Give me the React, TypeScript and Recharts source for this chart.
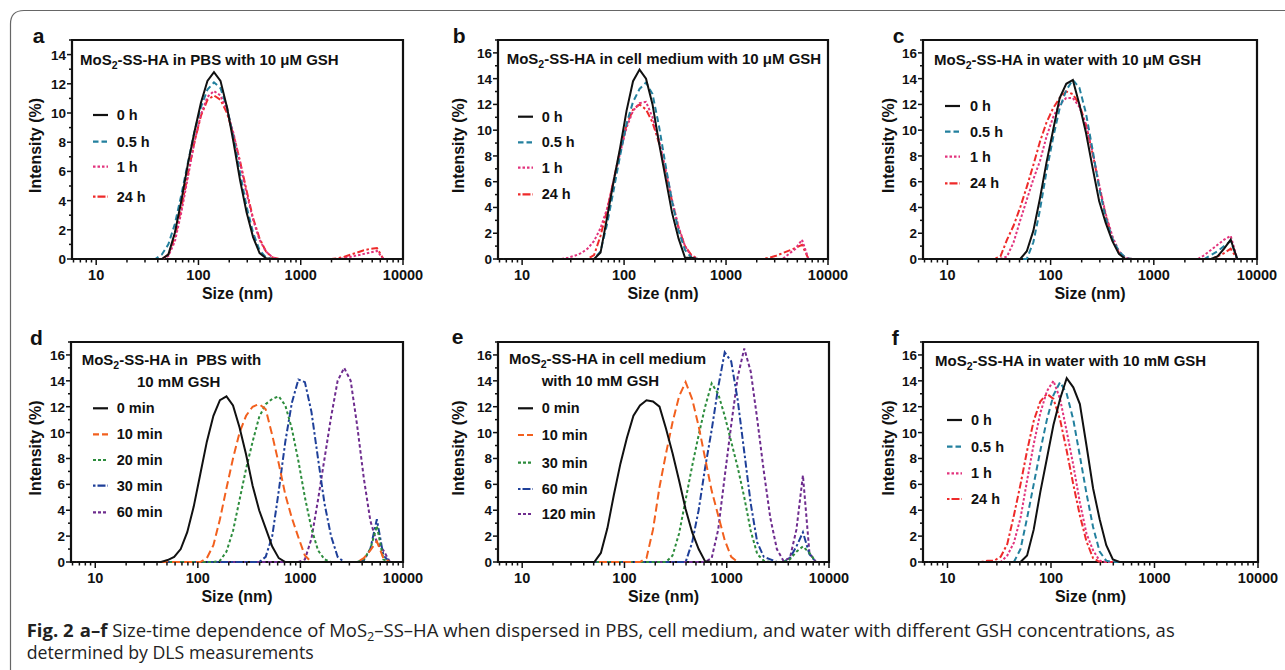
import React from 'react';
import { LineChart, Line, XAxis, YAxis, ReferenceArea, Label } from 'recharts';

// DLS size bins (nm), visible part of the instrument's log grid
const sizes = [
  6.503, 7.531, 8.721, 10.1, 11.7, 13.54, 15.69, 18.17, 21.04, 24.36,
  28.21, 32.67, 37.84, 43.82, 50.75, 58.77, 68.06, 78.82, 91.28, 105.7,
  122.4, 141.8, 164.2, 190.1, 220.2, 255.0, 295.3, 342.0, 396.1, 458.7,
  531.2, 615.1, 712.4, 825.0, 955.4, 1106, 1281, 1484, 1718, 1990,
  2305, 2669, 3091, 3580, 4145, 4801, 5560, 6439, 7456, 8635, 10000,
];

const xTicks = [
  6, 7, 8, 9, 10, 20, 30, 40, 50, 60, 70, 80, 90,
  100, 200, 300, 400, 500, 600, 700, 800, 900,
  1000, 2000, 3000, 4000, 5000, 6000, 7000, 8000, 9000, 10000,
];
const xMajor = [10, 100, 1000, 10000];
const yTicks15 = [0, 1, 2, 3, 4, 5, 6, 7, 8, 9, 10, 11, 12, 13, 14, 15];
const yTicks17 = [0, 1, 2, 3, 4, 5, 6, 7, 8, 9, 10, 11, 12, 13, 14, 15, 16, 17];

const hours = ['0 h', '0.5 h', '1 h', '24 h'];
const minutesD = ['0 min', '10 min', '20 min', '30 min', '60 min'];
const minutesE = ['0 min', '10 min', '30 min', '60 min', '120 min'];

// (a) PBS, 10 uM GSH
const a0h = [
  0, 0, 0, 0, 0, 0, 0, 0, 0, 0,
  0, 0, 0, 0, 0.3, 1.8, 4.0, 6.5, 8.7, 10.7,
  12.2, 12.8, 12.2, 10.4, 8.0, 5.4, 3.2, 1.5, 0.4, 0.05,
  0, 0, 0, 0, 0, 0, 0, 0, 0, 0,
  0, 0, 0, 0, 0, 0, 0, 0, 0, 0, 0,
];
const a05h = [
  0, 0, 0, 0, 0, 0, 0, 0, 0, 0,
  0, 0, 0, 0.3, 1.0, 2.4, 4.4, 6.6, 8.7, 10.4,
  11.6, 12.1, 11.7, 10.4, 8.3, 5.9, 3.6, 1.8, 0.6, 0.1,
  0, 0, 0, 0, 0, 0, 0, 0, 0, 0,
  0, 0, 0, 0, 0, 0, 0, 0, 0, 0, 0,
];
const a1h = [
  0, 0, 0, 0, 0, 0, 0, 0, 0, 0,
  0, 0, 0, 0, 0.2, 1.2, 3.2, 5.6, 8.0, 9.9,
  11.1, 11.5, 11.2, 10.2, 8.6, 6.6, 4.5, 2.7, 1.3, 0.5,
  0.1, 0, 0, 0, 0, 0, 0, 0, 0, 0,
  0, 0.05, 0.15, 0.25, 0.35, 0.45, 0.55, 0, 0, 0, 0,
];
const a24h = [
  0, 0, 0, 0, 0, 0, 0, 0, 0, 0,
  0, 0, 0, 0, 0.3, 1.5, 3.5, 5.8, 8.0, 9.8,
  10.9, 11.2, 10.9, 10.0, 8.5, 6.7, 4.7, 2.8, 1.4, 0.5,
  0.1, 0, 0, 0, 0, 0, 0, 0, 0, 0,
  0.05, 0.15, 0.3, 0.45, 0.6, 0.7, 0.75, 0, 0, 0, 0,
];

// (b) cell medium, 10 uM GSH
const b0h = [
  0, 0, 0, 0, 0, 0, 0, 0, 0, 0,
  0, 0, 0, 0, 0, 0.5, 3.2, 6.0, 8.6, 11.5,
  13.8, 14.7, 14.0, 12.0, 9.0, 6.3, 3.6, 1.6, 0.1, 0.1,
  0, 0, 0, 0, 0, 0, 0, 0, 0, 0,
  0, 0, 0, 0, 0, 0, 0, 0, 0, 0, 0,
];
const b05h = [
  0, 0, 0, 0, 0, 0, 0, 0, 0, 0,
  0, 0, 0, 0, 0, 0.6, 2.7, 5.3, 8.0, 10.5,
  12.2, 13.2, 13.7, 12.8, 10.3, 7.3, 4.5, 2.2, 0.7, 0.1,
  0, 0, 0, 0, 0, 0, 0, 0, 0, 0,
  0, 0, 0, 0, 0, 0, 0, 0, 0, 0, 0,
];
const b1h = [
  0, 0, 0, 0, 0, 0, 0, 0, 0, 0,
  0.1, 0.25, 0.45, 0.8, 1.4, 2.4, 3.9, 6.0, 8.2, 10.2,
  11.5, 12.1, 12.2, 11.0, 9.2, 7.0, 4.6, 2.5, 1.0, 0.2,
  0, 0, 0, 0, 0, 0, 0, 0, 0, 0,
  0, 0, 0, 0, 0.4, 0.8, 1.5, 0, 0, 0, 0,
];
const b24h = [
  0, 0, 0, 0, 0, 0, 0, 0, 0, 0,
  0, 0, 0, 0, 0.3, 1.8, 3.8, 6.1, 8.4, 10.4,
  11.6, 12.0, 11.6, 10.6, 9.0, 6.8, 4.5, 2.4, 1.0, 0.3,
  0, 0, 0, 0, 0, 0, 0, 0, 0, 0,
  0, 0.1, 0.25, 0.45, 0.65, 0.85, 1.1, 0, 0, 0, 0,
];

// (c) water, 10 uM GSH
const c0h = [
  0, 0, 0, 0, 0, 0, 0, 0, 0, 0,
  0, 0, 0, 0, 0, 0.6, 2.2, 4.7, 7.5, 10.0,
  12.5, 13.6, 13.9, 12.0, 9.8, 7.1, 4.5, 2.8, 1.4, 0.4,
  0, 0, 0, 0, 0, 0, 0, 0, 0, 0,
  0, 0, 0, 0, 0.2, 0.8, 1.5, 0, 0, 0, 0,
];
const c05h = [
  0, 0, 0, 0, 0, 0, 0, 0, 0, 0,
  0, 0, 0, 0, 0, 0, 1.3, 3.8, 6.8, 9.4,
  11.7, 13.1, 13.9, 13.3, 11.3, 8.5, 5.5, 3.2, 1.6, 0.6,
  0.1, 0, 0, 0, 0, 0, 0, 0, 0, 0,
  0, 0, 0, 0.3, 0.6, 1.0, 1.4, 0, 0, 0, 0,
];
const c1h = [
  0, 0, 0, 0, 0, 0, 0, 0, 0, 0,
  0, 0, 0.2, 1.3, 3.0, 4.6, 6.2, 7.6, 9.5, 11.0,
  12.0, 12.5, 12.5, 11.8, 10.4, 8.3, 5.8, 3.5, 1.8, 0.6,
  0.1, 0, 0, 0, 0, 0, 0, 0, 0, 0,
  0, 0, 0.3, 0.7, 1.1, 1.5, 1.8, 0, 0, 0, 0,
];
const c24h = [
  0, 0, 0, 0, 0, 0, 0, 0, 0, 0,
  0, 0.2, 1.5, 2.6, 4.0, 5.6, 7.3, 9.1, 10.6, 11.7,
  12.5, 13.0, 12.8, 12.0, 10.4, 8.2, 5.7, 3.4, 1.6, 0.5,
  0.05, 0, 0, 0, 0, 0, 0, 0, 0, 0,
  0, 0, 0, 0, 0.2, 0.45, 0.8, 0, 0, 0, 0,
];

// (d) PBS, 10 mM GSH
const d0 = [
  0, 0, 0, 0, 0, 0, 0, 0, 0, 0,
  0, 0, 0, 0, 0.15, 0.4, 1.0, 2.3, 4.3, 6.8,
  9.3, 11.3, 12.5, 12.8, 12.1, 10.4, 8.3, 5.9, 4.0, 2.6,
  1.2, 0.3, 0, 0, 0, 0, 0, 0, 0, 0,
  0, 0, 0, 0, 0, 0, 0, 0, 0, 0, 0,
];
const d10 = [
  0, 0, 0, 0, 0, 0, 0, 0, 0, 0,
  0, 0, 0, 0, 0, 0, 0, 0, 0, 0,
  0.3, 1.3, 3.3, 5.7, 8.0, 10.0, 11.3, 12.0, 12.2, 11.8,
  9.8, 7.6, 5.2, 3.4, 1.9, 0.5, 0, 0, 0, 0,
  0, 0, 0, 0, 0.3, 0.9, 1.6, 0.3, 0, 0, 0,
];
const d20 = [
  0, 0, 0, 0, 0, 0, 0, 0, 0, 0,
  0, 0, 0, 0, 0, 0, 0, 0, 0, 0,
  0, 0, 0.1, 0.8, 2.4, 4.8, 7.2, 9.3, 11.2, 12.2,
  12.6, 12.8, 12.1, 10.3, 7.8, 5.0, 2.6, 0.9, 0.2, 0,
  0, 0, 0, 0, 0.2, 1.0, 2.8, 0.2, 0, 0, 0,
];
const d30 = [
  0, 0, 0, 0, 0, 0, 0, 0, 0, 0,
  0, 0, 0, 0, 0, 0, 0, 0, 0, 0,
  0, 0, 0, 0, 0, 0, 0, 0, 0, 0.4,
  2.0, 5.5, 9.3, 12.3, 14.1, 13.9, 11.6, 8.0, 4.5, 2.0,
  0.4, 0, 0, 0, 0.1, 1.0, 3.3, 0.5, 0, 0, 0,
];
const d60 = [
  0, 0, 0, 0, 0, 0, 0, 0, 0, 0,
  0, 0, 0, 0, 0, 0, 0, 0, 0, 0,
  0, 0, 0, 0, 0, 0, 0, 0, 0, 0,
  0, 0, 0, 0, 0, 0.2, 1.8, 4.8, 8.0, 11.2,
  14.0, 15.0, 14.0, 10.5, 6.5, 3.2, 1.5, 0.9, 0, 0, 0,
];

// (e) cell medium, 10 mM GSH
const e0 = [
  0, 0, 0, 0, 0, 0, 0, 0, 0, 0,
  0, 0, 0, 0, 0, 0.7, 2.6, 5.2, 7.6, 9.6,
  11.3, 12.1, 12.5, 12.4, 12.0, 10.3, 8.4, 6.3, 4.1, 2.3,
  1.0, 0.05, 0, 0, 0, 0, 0, 0, 0, 0,
  0, 0, 0, 0, 0, 0, 0, 0, 0, 0, 0,
];
const e10 = [
  0, 0, 0, 0, 0, 0, 0, 0, 0, 0,
  0, 0, 0, 0, 0, 0, 0, 0, 0, 0,
  0, 0, 0.3, 2.5, 5.8, 8.4, 10.8, 12.8, 13.9, 12.6,
  10.5, 8.0, 5.5, 3.6, 1.7, 0.4, 0, 0, 0, 0,
  0, 0, 0, 0, 0, 0, 0, 0, 0, 0, 0,
];
const e30 = [
  0, 0, 0, 0, 0, 0, 0, 0, 0, 0,
  0, 0, 0, 0, 0, 0, 0, 0, 0, 0,
  0, 0, 0, 0, 0, 0, 0.5, 2.2, 4.8, 7.4,
  9.8, 12.0, 13.8, 13.0, 11.3, 9.3, 7.3, 5.0, 2.4, 0.6,
  0.1, 0, 0, 0, 0.2, 0.8, 1.2, 0.7, 0, 0, 0,
];
const e60 = [
  0, 0, 0, 0, 0, 0, 0, 0, 0, 0,
  0, 0, 0, 0, 0, 0, 0, 0, 0, 0,
  0, 0, 0, 0, 0, 0, 0, 0, 0, 1.5,
  4.0, 7.3, 10.2, 13.5, 16.2, 15.5, 12.5, 8.5, 4.5, 1.5,
  0.4, 0.2, 0, 0, 0.3, 1.2, 2.3, 0.6, 0, 0, 0,
];
const e120 = [
  0, 0, 0, 0, 0, 0, 0, 0, 0, 0,
  0, 0, 0, 0, 0, 0, 0, 0, 0, 0,
  0, 0, 0, 0, 0, 0, 0, 0, 0, 0,
  0, 0, 0.3, 2.5, 6.6, 10.6, 14.3, 16.5, 14.7, 11.0,
  7.0, 3.4, 1.0, 0.1, 0.3, 2.5, 6.7, 0.7, 0, 0, 0,
];

// (f) water, 10 mM GSH
const f0h = [
  0, 0, 0, 0, 0, 0, 0, 0, 0, 0,
  0, 0, 0, 0, 0, 0.5, 2.5, 5.4, 8.0, 10.6,
  12.6, 14.2, 13.5, 12.2, 9.0, 5.7, 3.3, 1.3, 0.2, 0,
  0, 0, 0, 0, 0, 0, 0, 0, 0, 0,
  0, 0, 0, 0, 0, 0, 0, 0, 0, 0, 0,
];
const f05h = [
  0, 0, 0, 0, 0, 0, 0, 0, 0, 0,
  0, 0, 0, 0, 1.0, 3.4, 6.0, 8.6, 11.0, 12.9,
  13.9, 13.0, 11.0, 8.2, 5.3, 2.7, 0.8, 0.1, 0, 0,
  0, 0, 0, 0, 0, 0, 0, 0, 0, 0,
  0, 0, 0, 0, 0, 0, 0, 0, 0, 0, 0,
];
const f1h = [
  0, 0, 0, 0, 0, 0, 0, 0, 0, 0,
  0, 0, 0.5, 1.5, 3.4, 6.3, 9.1, 11.5, 13.2, 14.0,
  12.6, 10.1, 7.5, 4.6, 2.2, 0.9, 0.1, 0, 0, 0,
  0, 0, 0, 0, 0, 0, 0, 0, 0, 0,
  0, 0, 0, 0, 0, 0, 0, 0, 0, 0, 0,
];
const f24h = [
  0, 0, 0, 0, 0, 0, 0, 0, 0, 0.1,
  0.1, 0.4, 1.4, 3.6, 6.0, 8.6, 10.9, 12.4, 13.0, 12.6,
  11.0, 8.6, 6.0, 3.6, 1.6, 0.3, 0, 0, 0, 0,
  0, 0, 0, 0, 0, 0, 0, 0, 0, 0,
  0, 0, 0, 0, 0, 0, 0, 0, 0, 0, 0,
];

const FONT = '"Liberation Sans", Arial, Helvetica, sans-serif';
const CAPTION_FONT = '"Open Sans", "Noto Sans", sans-serif';
const INK = '#111';

const hourStyles = [
  { color: '#111111', dash: undefined, legendDash: undefined },
  { color: '#23809e', dash: '6 3.5', legendDash: '5.5 3' },
  { color: '#e2337d', dash: '2.5 2', legendDash: '2.5 2' },
  { color: '#ee2a2a', dash: '7 2.5 2.5 2.5', legendDash: '2.5 2 8 2' },
];
const minStyles = [
  { color: '#111111', dash: undefined, legendDash: undefined },
  { color: '#f2601e', dash: '8 4', legendDash: '6 3' },
  { color: '#2c8c3c', dash: '3 2.5', legendDash: '3 2' },
  { color: '#1e3f99', dash: '7 2.5 2.5 2.5', legendDash: '2.5 2 8 2' },
  { color: '#6e2c8e', dash: '3.5 2.5', legendDash: '3 2' },
];

const mk = (names, values, styles) =>
  names.map((name, i) => ({ name, values: values[i], ...styles[i] }));

const panels = [
  {
    letter: 'a', lx: 32.7, ly: 43.3,
    x: 72, y: 40, w: 331, h: 219, yTicks: yTicks15, yLabelOff: 37,
    title: [{ x: 80, y: 65, mos: true, text: '-SS-HA in PBS with 10 μM GSH' }],
    legend: { x: 93, tx: 116.7, ys: [120, 146.7, 171.7, 201.7] },
    series: mk(hours, [a0h, a05h, a1h, a24h], hourStyles),
  },
  {
    letter: 'b', lx: 452.7, ly: 43.3,
    x: 498, y: 40, w: 330, h: 219, yTicks: yTicks17, yLabelOff: 40,
    title: [{ x: 506.7, y: 63.5, mos: true, text: '-SS-HA in cell medium with 10 μM GSH' }],
    legend: { x: 518, tx: 541.7, ys: [121.7, 147.3, 172.7, 199.3] },
    series: mk(hours, [b0h, b05h, b1h, b24h], hourStyles),
  },
  {
    letter: 'c', lx: 892.7, ly: 43.3,
    x: 923, y: 40, w: 334, h: 219, yTicks: yTicks17, yLabelOff: 35,
    title: [{ x: 934, y: 65, mos: true, text: '-SS-HA in water with 10 μM GSH' }],
    legend: { x: 945, tx: 970, ys: [111, 136.7, 161.7, 188.3] },
    series: mk(hours, [c0h, c05h, c1h, c24h], hourStyles),
  },
  {
    letter: 'd', lx: 30, ly: 345,
    x: 71, y: 342, w: 332, h: 220, yTicks: yTicks17, yLabelOff: 36,
    title: [
      { x: 81.7, y: 365, mos: true, text: '-SS-HA in  PBS with' },
      { x: 137, y: 386.7, mos: false, text: '10 mM GSH' },
    ],
    legend: { x: 93, tx: 116.7, ys: [413.3, 439.3, 465, 490.7, 517.3] },
    series: mk(minutesD, [d0, d10, d20, d30, d60], minStyles),
  },
  {
    letter: 'e', lx: 451.7, ly: 344,
    x: 498, y: 342, w: 331, h: 220, yTicks: yTicks17, yLabelOff: 40,
    title: [
      { x: 509, y: 364.3, mos: true, text: '-SS-HA in cell medium' },
      { x: 541.7, y: 386, mos: false, text: 'with 10 mM GSH' },
    ],
    legend: { x: 518, tx: 541.7, ys: [413.3, 440, 467.7, 494, 519] },
    series: mk(minutesE, [e0, e10, e30, e60, e120], minStyles),
  },
  {
    letter: 'f', lx: 891.7, ly: 345,
    x: 923, y: 342, w: 335, h: 220, yTicks: yTicks17, yLabelOff: 35,
    title: [{ x: 935, y: 366, mos: true, text: '-SS-HA in water with 10 mM GSH' }],
    legend: { x: 947, tx: 971, ys: [425, 451.7, 478.3, 504] },
    series: mk(hours, [f0h, f05h, f1h, f24h], hourStyles),
  },
];

const X_MIN = 5.8;
const X_MAX = 10000;

const XTick = (props) => {
  const { x, y, payload } = props;
  const v = payload.value;
  const major = xMajor.includes(v);
  return (
    <g>
      <line x1={x} x2={x} y1={y} y2={y + (major ? 6 : 3.5)} stroke={INK} strokeWidth={1.5} />
      {major && (
        <text x={x} y={y + 21} textAnchor="middle" fontSize={14.5} fontWeight="bold" fill={INK} fontFamily={FONT}>
          {v}
        </text>
      )}
    </g>
  );
};

const YTick = (props) => {
  const { x, y, payload } = props;
  const v = payload.value;
  const major = v % 2 === 0;
  return (
    <g>
      <line x1={x} x2={x - (major ? 5 : 3)} y1={y} y2={y} stroke={INK} strokeWidth={1.5} />
      {major && (
        <text x={x - 6} y={y + 5} textAnchor="end" fontSize={13.5} fontWeight="bold" fill={INK} fontFamily={FONT}>
          {v}
        </text>
      )}
    </g>
  );
};

function Panel({ p }) {
  const rows = sizes.map((size, i) => {
    const row = { size };
    p.series.forEach((s, k) => {
      row['s' + k] = s.values[i];
    });
    return row;
  });
  const yMax = p.yTicks[p.yTicks.length - 1];
  const order = p.series.map((s, k) => k).reverse();
  return (
    <div style={{ position: 'absolute', left: p.x - 60, top: p.y - 10 }}>
      <LineChart width={p.w + 100} height={p.h + 55} data={rows} margin={{ top: 10, right: 40, left: 0, bottom: 0 }}>
        <XAxis
          dataKey="size"
          type="number"
          scale="log"
          domain={[X_MIN, X_MAX]}
          allowDataOverflow
          ticks={xTicks}
          interval={0}
          tick={(t) => <XTick {...t} />}
          tickSize={0}
          tickMargin={0}
          tickLine={false}
          axisLine={false}
          height={45}
        >
          <Label
            content={({ viewBox }) => (
              <text
                x={viewBox.x + viewBox.width / 2}
                y={viewBox.y + 40}
                textAnchor="middle"
                fontSize={16}
                fontWeight="bold"
                fill={INK}
                fontFamily={FONT}
              >
                Size (nm)
              </text>
            )}
          />
        </XAxis>
        <YAxis
          type="number"
          domain={[0, yMax]}
          ticks={p.yTicks}
          interval={0}
          tick={(t) => <YTick {...t} />}
          tickSize={0}
          tickMargin={0}
          tickLine={false}
          axisLine={false}
          width={60}
        >
          <Label
            content={({ viewBox }) => {
              const cx = viewBox.x + viewBox.width - p.yLabelOff;
              const cy = viewBox.y + viewBox.height / 2 - 4;
              return (
                <text
                  x={cx}
                  y={cy}
                  transform={`rotate(-90 ${cx} ${cy})`}
                  textAnchor="middle"
                  dominantBaseline="central"
                  fontSize={16}
                  fontWeight="bold"
                  fill={INK}
                  fontFamily={FONT}
                >
                  Intensity (%)
                </text>
              );
            }}
          />
        </YAxis>
        <ReferenceArea x1={X_MIN} x2={X_MAX} y1={0} y2={yMax} fill="none" stroke={INK} strokeWidth={2.2} />
        {order.map((k) => (
          <Line
            key={k}
            dataKey={'s' + k}
            name={p.series[k].name}
            type="linear"
            stroke={p.series[k].color}
            strokeWidth={2}
            strokeDasharray={p.series[k].dash}
            dot={false}
            activeDot={false}
            isAnimationActive={false}
          />
        ))}
      </LineChart>
    </div>
  );
}

function Overlay() {
  return (
    <svg
      width={1285}
      height={670}
      style={{ position: 'absolute', left: 0, top: 0, pointerEvents: 'none' }}
      fontFamily={FONT}
    >
      <path d="M 10.5 670 L 10.5 24 Q 10.5 10.5 24 10.5 L 1285 10.5" fill="none" stroke="#666" strokeWidth={1.2} />
      {panels.map((p) => (
        <g key={p.letter}>
          <text x={p.lx} y={p.ly} fontSize={21} fontWeight="bold" fill={INK}>
            {p.letter}
          </text>
          {p.title.map((t, i) => (
            <text key={i} x={t.x} y={t.y} fontSize={15} fontWeight="bold" fill={INK} xmlSpace="preserve">
              {t.mos ? (
                <>
                  MoS
                  <tspan dy={4} fontSize={10.5}>2</tspan>
                  <tspan dy={-4}>{t.text}</tspan>
                </>
              ) : (
                t.text
              )}
            </text>
          ))}
          {p.series.map((s, i) => {
            const yb = p.legend.ys[i];
            return (
              <g key={s.name}>
                <line
                  x1={p.legend.x}
                  x2={p.legend.x + 15}
                  y1={yb - 5}
                  y2={yb - 5}
                  stroke={s.color}
                  strokeWidth={2.2}
                  strokeDasharray={s.legendDash}
                />
                <text x={p.legend.tx} y={yb} fontSize={14.5} fontWeight="bold" fill={INK}>
                  {s.name}
                </text>
              </g>
            );
          })}
        </g>
      ))}
      <text x={26.7} y={637.3} fontSize={17.5} fill="#222" fontFamily={CAPTION_FONT} textLength={1148} lengthAdjust="spacingAndGlyphs">
        <tspan fontWeight="bold">Fig. 2</tspan>
        <tspan dx={6} fontWeight="bold">a–f</tspan>
        <tspan> Size-time dependence of MoS</tspan>
        <tspan dy={4} fontSize={12}>2</tspan>
        <tspan dy={-4}>–SS–HA when dispersed in PBS, cell medium, and water with different GSH concentrations, as</tspan>
      </text>
      <text x={26.7} y={659.3} fontSize={17.5} fill="#222" fontFamily={CAPTION_FONT} textLength={287} lengthAdjust="spacingAndGlyphs">
        determined by DLS measurements
      </text>
    </svg>
  );
}

export default function App() {
  return (
    <div
      style={{
        position: 'absolute',
        left: 0,
        top: 0,
        width: 1285,
        height: 670,
        background: '#fff',
        overflow: 'hidden',
        fontFamily: FONT,
      }}
    >
      {panels.map((p) => (
        <Panel key={p.letter} p={p} />
      ))}
      <Overlay />
    </div>
  );
}
